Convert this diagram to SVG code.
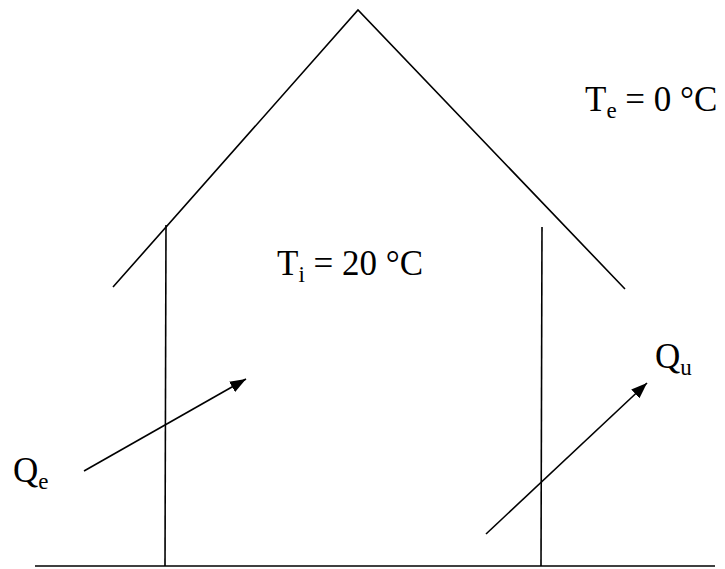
<svg xmlns="http://www.w3.org/2000/svg" width="725" height="569" viewBox="0 0 725 569">
<style>
.ln{stroke:#000;stroke-width:1.6;fill:none}
.t{font-family:"Liberation Serif","Times New Roman",serif;font-size:35px;fill:#000}
.s{font-size:23px}
</style>
<defs>
<marker id="ah" viewBox="0 0 16 12" refX="16" refY="6" markerWidth="16" markerHeight="12" markerUnits="userSpaceOnUse" orient="auto">
<path d="M0,0 L16,6 L0,12 z" fill="#000"/>
</marker>
</defs>
<rect width="725" height="569" fill="#fff"/>
<g id="house">
<polyline class="ln" points="113,287 358,10 625,289"/>
<line class="ln" x1="166" y1="225" x2="165" y2="566"/>
<line class="ln" x1="542" y1="227" x2="541" y2="566"/>
<line class="ln" x1="35" y1="566" x2="715" y2="566"/>
</g>
<g id="labels">
<text class="t" x="585" y="111">T<tspan class="s" dy="7">e</tspan><tspan dy="-7"> = 0 °C</tspan></text>
<text class="t" x="277" y="275">T<tspan class="s" dy="7">i</tspan><tspan dy="-7"> = 20 °C</tspan></text>
<text class="t" x="13" y="482">Q<tspan class="s" dy="7">e</tspan></text>
<text class="t" x="655" y="368">Q<tspan class="s" dy="7">u</tspan></text>
</g>
<g id="connectors">
<line class="ln" x1="84" y1="471" x2="246" y2="379" marker-end="url(#ah)"/>
<line class="ln" x1="486" y1="534" x2="647" y2="383" marker-end="url(#ah)"/>
</g>
</svg>
